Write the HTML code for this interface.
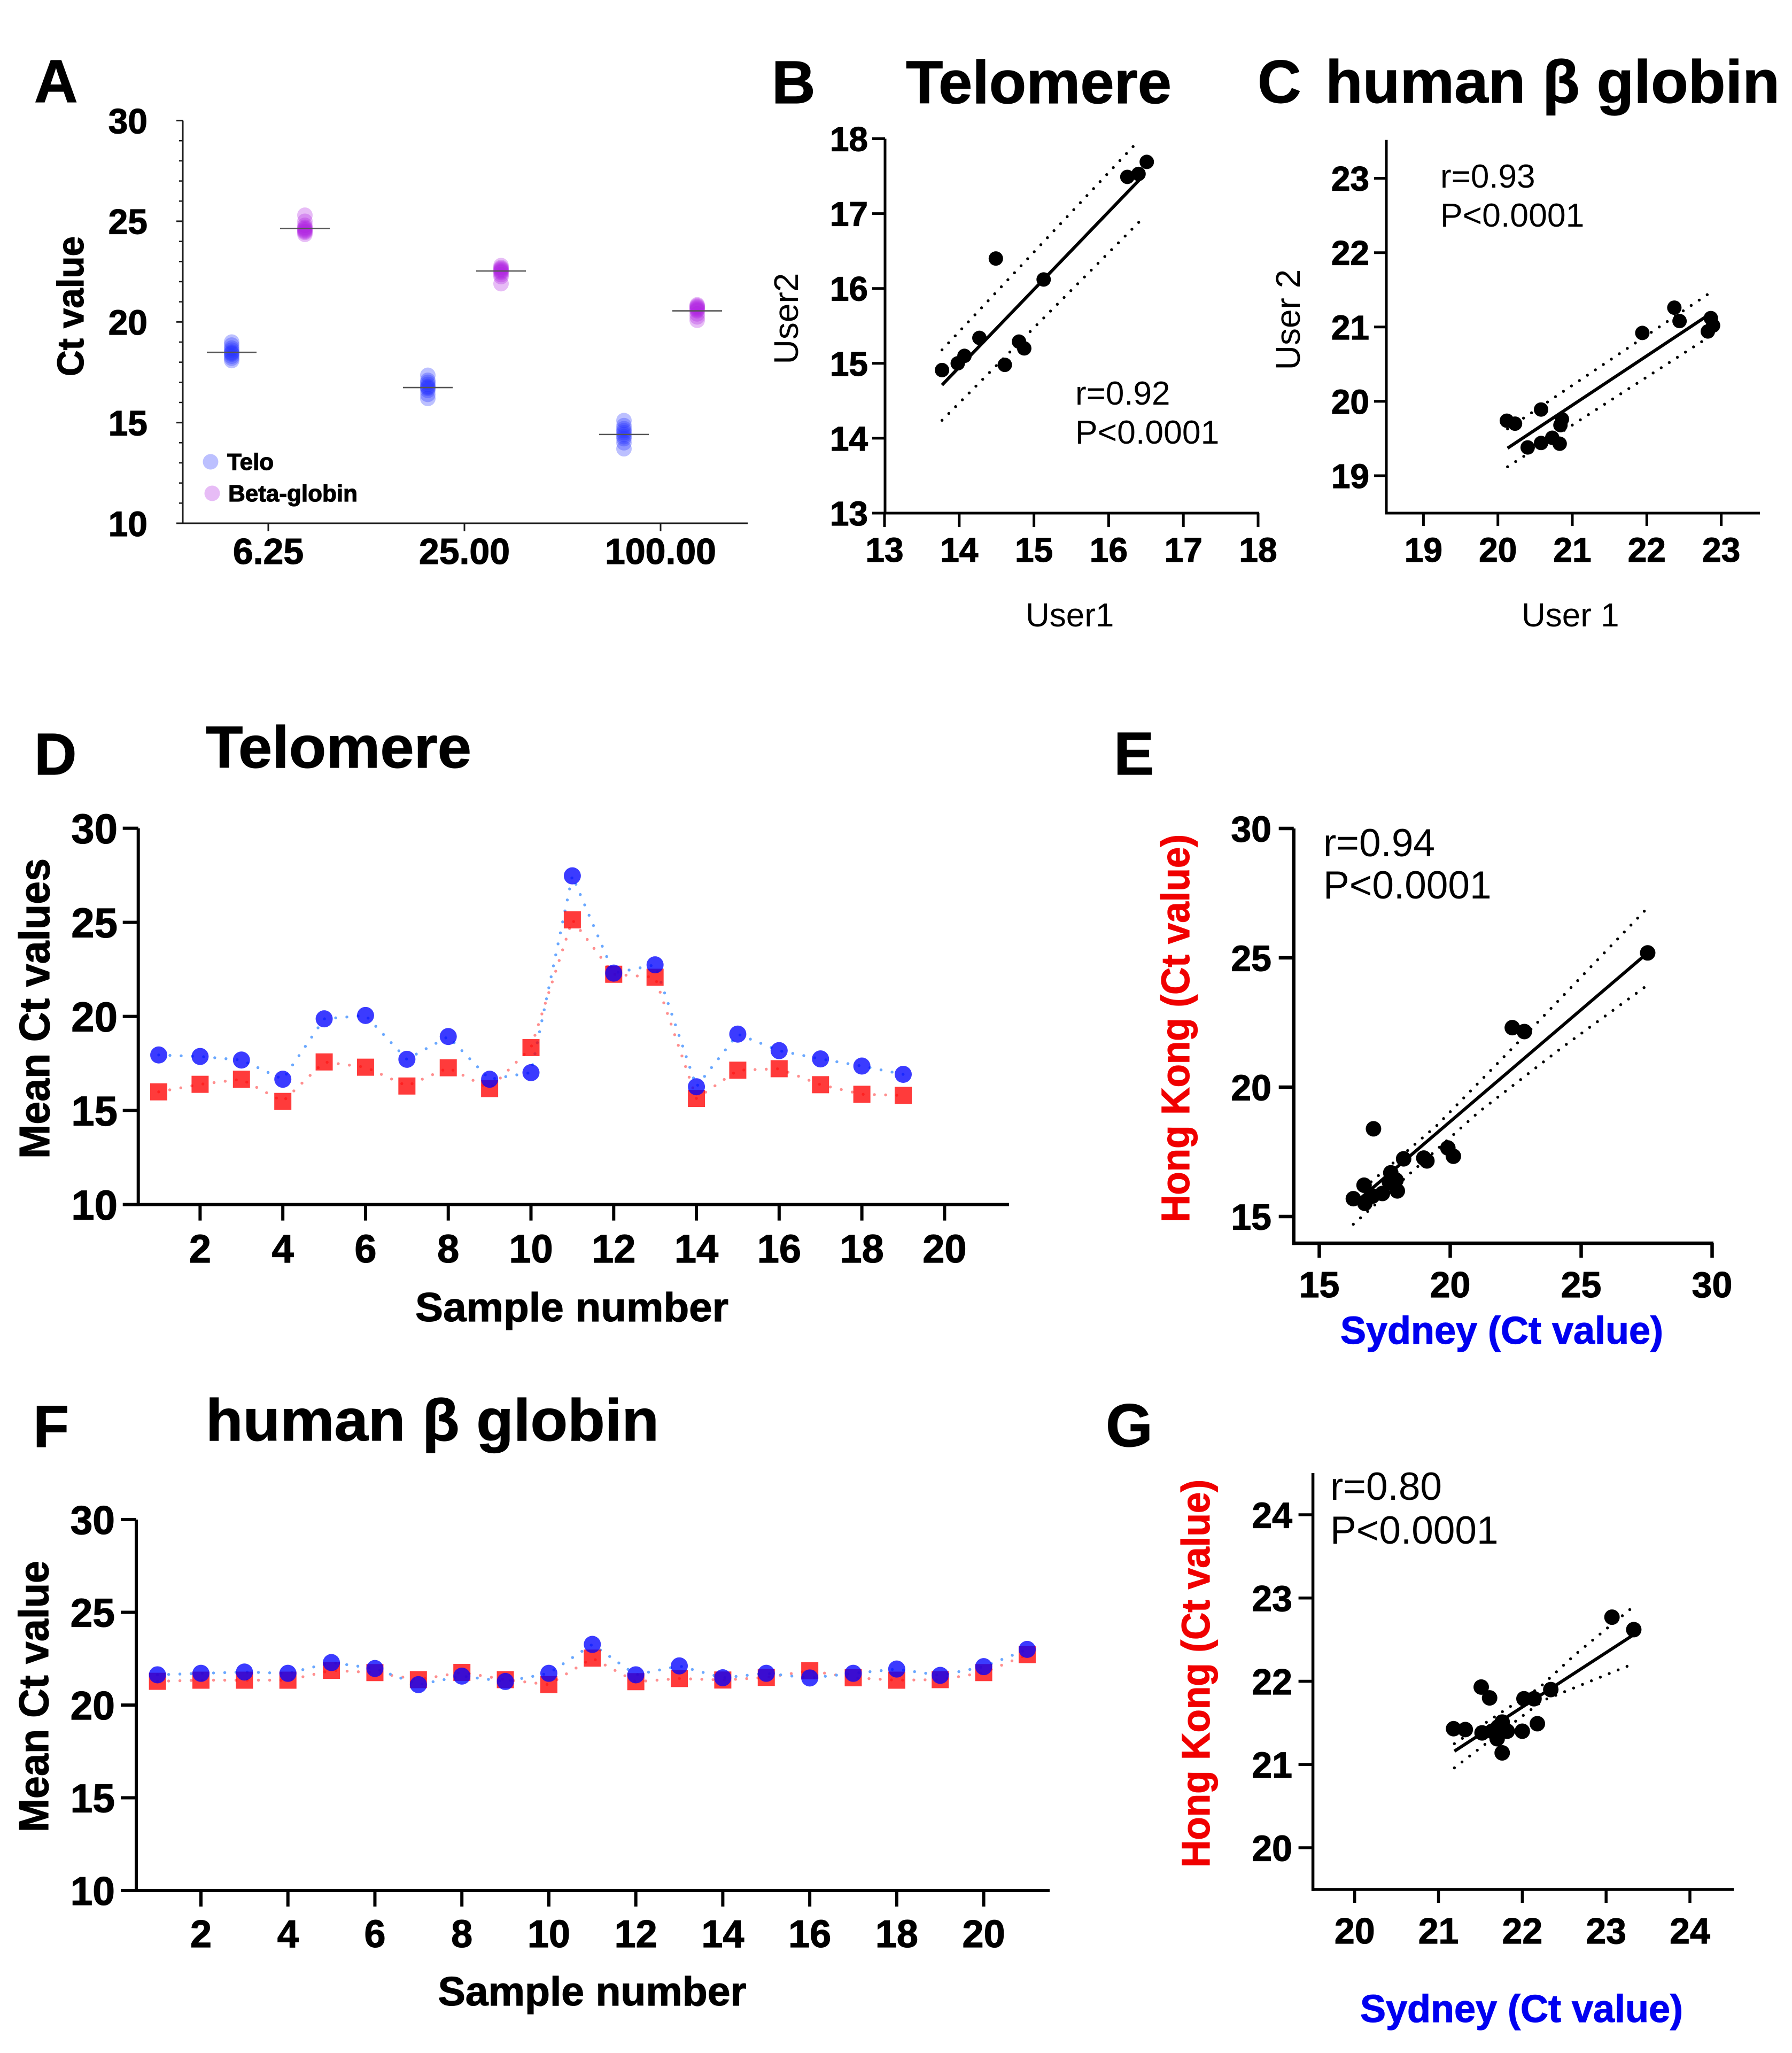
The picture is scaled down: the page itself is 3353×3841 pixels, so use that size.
<!DOCTYPE html>
<html lang="en">
<head>
<meta charset="utf-8">
<title>Telomere and human beta globin Ct values</title>
<style>
html,body{margin:0;padding:0;background:#fff;}
svg{display:block;}
text{font-family:"Liberation Sans",sans-serif;}
.b{font-weight:700;stroke:#000;stroke-width:1.2px;}
.red{fill:#f00000;stroke:#f00000;}
.blue{fill:#0000f0;stroke:#0000f0;}
</style>
</head>
<body>
<svg id="figure" xmlns="http://www.w3.org/2000/svg" width="3353" height="3841" viewBox="0 0 3353 3841">
<rect x="0" y="0" width="3353" height="3841" fill="#fff"/>

<g id="panel-a">
  <text class="b" x="64" y="191" font-size="113">A</text>
  <text class="b" x="156" y="573" font-size="70" text-anchor="middle" textLength="262" lengthAdjust="spacingAndGlyphs" transform="rotate(-90 156 573)">Ct value</text>
  <circle cx="394" cy="864" r="14.5" fill="#2030ff" fill-opacity="0.3"/>
  <text class="b" x="425" y="879" font-size="44">Telo</text>
  <circle cx="397" cy="923" r="14.5" fill="#b020e0" fill-opacity="0.3"/>
  <text class="b" x="427" y="938" font-size="44" textLength="242" lengthAdjust="spacingAndGlyphs">Beta-globin</text>
</g>

<g id="panel-b">
  <text class="b" x="1444" y="193" font-size="113">B</text>
  <text class="b" x="1695" y="193" font-size="113" textLength="497" lengthAdjust="spacingAndGlyphs">Telomere</text>
  <text x="2012" y="757" font-size="62">r=0.92</text>
  <text x="2012" y="830" font-size="62.5">P&lt;0.0001</text>
  <text x="1919" y="1172" font-size="62">User1</text>
  <text x="1493" y="596" font-size="64" text-anchor="middle" transform="rotate(-90 1493 596)">User2</text>
</g>

<g id="panel-c">
  <text class="b" x="2353" y="192" font-size="113">C</text>
  <text class="b" x="2480" y="192" font-size="113" textLength="850" lengthAdjust="spacingAndGlyphs">human β globin</text>
  <text x="2695" y="351" font-size="62">r=0.93</text>
  <text x="2695" y="424" font-size="62.5">P&lt;0.0001</text>
  <text x="2847" y="1172" font-size="62">User 1</text>
  <text x="2432" y="598" font-size="64" text-anchor="middle" transform="rotate(-90 2432 598)">User 2</text>
</g>

<g id="panel-d">
  <text class="b" x="64" y="1449" font-size="110">D</text>
  <text class="b" x="385" y="1436" font-size="110" textLength="497" lengthAdjust="spacingAndGlyphs">Telomere</text>
  <text class="b" x="1070" y="2472" font-size="76" text-anchor="middle" textLength="586" lengthAdjust="spacingAndGlyphs">Sample number</text>
  <text class="b" x="92" y="1887" font-size="80" text-anchor="middle" textLength="562" lengthAdjust="spacingAndGlyphs" transform="rotate(-90 92 1887)">Mean Ct values</text>
</g>

<g id="panel-e">
  <text class="b" x="2084" y="1449" font-size="113">E</text>
  <text x="2476" y="1602" font-size="73">r=0.94</text>
  <text x="2476" y="1681" font-size="73">P&lt;0.0001</text>
  <text class="b blue" x="2810" y="2514" font-size="72" text-anchor="middle" textLength="604" lengthAdjust="spacingAndGlyphs">Sydney (Ct value)</text>
  <text class="b red" x="2225" y="1924" font-size="74" text-anchor="middle" textLength="726" lengthAdjust="spacingAndGlyphs" transform="rotate(-90 2225 1924)">Hong Kong (Ct value)</text>
</g>

<g id="panel-f">
  <text class="b" x="62" y="2707" font-size="110">F</text>
  <text class="b" x="385" y="2695" font-size="110" textLength="848" lengthAdjust="spacingAndGlyphs">human β globin</text>
  <text class="b" x="1108" y="3752" font-size="76" text-anchor="middle" textLength="577" lengthAdjust="spacingAndGlyphs">Sample number</text>
  <text class="b" x="90" y="3174" font-size="78" text-anchor="middle" textLength="508" lengthAdjust="spacingAndGlyphs" transform="rotate(-90 90 3174)">Mean Ct value</text>
</g>

<g id="panel-g">
  <text class="b" x="2069" y="2706" font-size="113">G</text>
  <text x="2489" y="2806" font-size="73">r=0.80</text>
  <text x="2489" y="2888" font-size="73">P&lt;0.0001</text>
  <text class="b blue" x="2847" y="3783" font-size="72" text-anchor="middle" textLength="604" lengthAdjust="spacingAndGlyphs">Sydney (Ct value)</text>
  <text class="b red" x="2263" y="3131" font-size="74" text-anchor="middle" textLength="726" lengthAdjust="spacingAndGlyphs" transform="rotate(-90 2263 3131)">Hong Kong (Ct value)</text>
</g>
</svg>

<script>
/* ---------- Panel A data ---------- */
const aCategories = ['6.25', '25.00', '100.00'];
const aYTicks = [10, 15, 20, 25, 30];
const aTeloMedians = [18.49, 16.74, 14.41];
const aBetaMedians = [24.64, 22.53, 20.55];
const aTelo1 = [19.0, 18.85, 18.7, 18.6, 18.5, 18.45, 18.4, 18.3, 18.2, 18.08];
const aTelo2 = [17.35, 17.1, 17.0, 16.9, 16.8, 16.75, 16.7, 16.6, 16.4, 16.2];
const aTelo3 = [15.1, 14.85, 14.7, 14.6, 14.5, 14.4, 14.3, 14.2, 14.0, 13.7];
const aBeta1 = [25.3, 25.0, 24.8, 24.7, 24.65, 24.6, 24.55, 24.5, 24.45, 24.35];
const aBeta2 = [22.8, 22.7, 22.65, 22.6, 22.55, 22.5, 22.45, 22.35, 22.25, 21.9];
const aBeta3 = [20.85, 20.8, 20.75, 20.7, 20.65, 20.6, 20.55, 20.4, 20.25, 20.08];

/* ---------- Panel B data ---------- */
const bTicks = [13, 14, 15, 16, 17, 18];
const bUser1 = [13.77, 13.98, 14.07, 14.27, 14.49, 14.61, 14.80, 14.87, 15.13, 16.25, 16.40, 16.51];
const bUser2 = [14.91, 15.0, 15.10, 15.34, 16.40, 14.98, 15.29, 15.20, 16.12, 17.49, 17.53, 17.69];
const bFitX = [13.77, 16.42];
const bFitY = [14.71, 17.46];
const bUpperX = [13.77, 16.36];
const bUpperY = [15.18, 17.93];
const bLowerX = [13.77, 16.44];
const bLowerY = [14.24, 16.92];

/* ---------- Panel C data ---------- */
const cTicks = [19, 20, 21, 22, 23];
const cUser1 = [20.12, 20.23, 20.40, 20.58, 20.58, 20.73, 20.83, 20.84, 20.86, 21.94, 22.37, 22.44, 22.86, 22.89, 22.82];
const cUser2 = [19.74, 19.70, 19.38, 19.89, 19.44, 19.51, 19.43, 19.68, 19.76, 20.92, 21.26, 21.08, 21.12, 21.02, 20.94];
const cFitX = [20.13, 22.84];
const cFitY = [19.37, 21.17];
const cUpperX = [20.13, 22.85];
const cUpperY = [19.63, 21.46];
const cLowerX = [20.13, 22.81];
const cLowerY = [19.12, 20.85];

/* ---------- Panel D data ---------- */
const dXTicks = [2, 4, 6, 8, 10, 12, 14, 16, 18, 20];
const dYTicks = [10, 15, 20, 25, 30];
const dSydney = [17.95, 17.87, 17.68, 16.66, 19.87, 20.05, 17.72, 18.93, 16.66, 17.01, 27.47, 22.30, 22.74, 16.26, 19.06, 18.18, 17.74, 17.36, 16.92];
const dHongKong = [15.99, 16.39, 16.66, 15.48, 17.58, 17.30, 16.30, 17.27, 16.16, 18.34, 25.13, 22.24, 22.08, 15.64, 17.14, 17.22, 16.37, 15.86, 15.80];

/* ---------- Panel E data ---------- */
const eTicks = [15, 20, 25, 30];
const eSydney = [16.30, 16.74, 16.71, 17.03, 17.07, 17.41, 17.73, 17.68, 17.93, 17.98, 18.22, 18.99, 19.11, 19.91, 20.12, 22.37, 22.83, 27.54];
const eHongKong = [15.69, 15.51, 16.21, 15.79, 18.39, 15.89, 16.69, 16.33, 16.41, 15.99, 17.23, 17.26, 17.15, 17.65, 17.33, 22.30, 22.15, 25.19];
const eFitX = [16.3, 27.5];
const eFitY = [15.47, 25.16];
const eUpperX = [16.7, 19.47, 23.38, 27.54];
const eUpperY = [16.1, 18.5, 22.55, 26.94];
const eLowerX = [16.3, 21.1, 24.28, 27.54];
const eLowerY = [14.70, 19.05, 21.54, 23.95];

/* ---------- Panel F data ---------- */
const fXTicks = [2, 4, 6, 8, 10, 12, 14, 16, 18, 20];
const fYTicks = [10, 15, 20, 25, 30];
const fSydney = [21.63, 21.71, 21.78, 21.71, 22.29, 21.97, 21.10, 21.56, 21.27, 21.71, 23.27, 21.63, 22.11, 21.47, 21.71, 21.46, 21.71, 21.94, 21.60, 22.07, 23.0];
const fHongKong = [21.28, 21.34, 21.34, 21.34, 21.87, 21.75, 21.37, 21.76, 21.37, 21.10, 22.53, 21.26, 21.43, 21.35, 21.49, 21.85, 21.47, 21.34, 21.37, 21.75, 22.72];

/* ---------- Panel G data ---------- */
const gTicks = [20, 21, 22, 23, 24];
const gSydney = [21.18, 21.32, 21.51, 21.61, 21.52, 21.64, 21.70, 21.76, 21.76, 21.74, 21.82, 21.71, 22.00, 22.02, 22.14, 22.18, 22.34, 23.07, 23.33];
const gHongKong = [21.43, 21.42, 21.93, 21.80, 21.38, 21.40, 21.31, 21.14, 21.51, 21.40, 21.40, 21.45, 21.40, 21.79, 21.79, 21.49, 21.90, 22.77, 22.62];
const gFitX = [21.19, 23.33];
const gFitY = [21.16, 22.56];
const gUpperX = [21.19, 21.74, 22.20, 22.63, 23.33];
const gUpperY = [21.25, 21.62, 21.92, 22.32, 22.90];
const gLowerX = [21.19, 21.59, 22.25, 23.25];
const gLowerY = [20.96, 21.27, 21.77, 22.18];

/* ---------- Helpers ---------- */
const SVGNS = 'http://www.w3.org/2000/svg';

function add(parent, tag, name, attrs) {
  const el = document.createElementNS(SVGNS, tag);
  
  
  for (const k in attrs) el.setAttribute(k, attrs[k]);
  parent.appendChild(el);
  return el;
}

function scale(d0, p0, d1, p1) {
  return function (v) { return p0 + (v - d0) * (p1 - p0) / (d1 - d0); };
}

function drawAxes(g, o) {
  const color = o.color || '#000';
  add(g, 'line', 'y-axis-line', { x1: o.ax, y1: o.top, x2: o.ax, y2: o.ay + o.w / 2, stroke: color, 'stroke-width': o.w });
  add(g, 'line', 'x-axis-line', { x1: o.left, y1: o.ay, x2: o.right, y2: o.ay, stroke: color, 'stroke-width': o.w });
  o.yTicks.forEach(function (v) {
    const y = o.sy(v);
    add(g, 'line', 'y-tick', { x1: o.ax - o.lenY, y1: y, x2: o.ax, y2: y, stroke: color, 'stroke-width': o.w });
    const t = add(g, 'text', 'y-tick-label', { x: o.yLabelRight, y: y + o.fontY * 0.36, 'font-size': o.fontY, 'font-weight': 700, 'text-anchor': 'end', stroke: '#000', 'stroke-width': 1.2 });
    t.textContent = v;
  });
  o.xTicks.forEach(function (v, i) {
    const x = o.sx(v);
    add(g, 'line', 'x-tick', { x1: x, y1: o.ay, x2: x, y2: o.ay + o.lenX, stroke: color, 'stroke-width': o.w });
    const t = add(g, 'text', 'x-tick-label', { x: x, y: o.xLabelBase, 'font-size': o.fontX, 'font-weight': 700, 'text-anchor': 'middle', stroke: '#000', 'stroke-width': 1.2 });
    t.textContent = o.xLabels ? o.xLabels[i] : v;
  });
}

function path(xs, ys, sx, sy) {
  return xs.map(function (x, i) { return (i ? 'L' : 'M') + sx(x).toFixed(1) + ' ' + sy(ys[i]).toFixed(1); }).join(' ');
}

function drawScatter(g, o) {
  add(g, 'path', 'confidence-band-upper', { d: path(o.upX, o.upY, o.sx, o.sy), fill: 'none', stroke: '#000', 'stroke-width': 5.5, 'stroke-dasharray': '0 18', 'stroke-linecap': 'round' });
  add(g, 'path', 'confidence-band-lower', { d: path(o.loX, o.loY, o.sx, o.sy), fill: 'none', stroke: '#000', 'stroke-width': 5.5, 'stroke-dasharray': '0 18', 'stroke-linecap': 'round' });
  add(g, 'path', 'regression-line', { d: path(o.fitX, o.fitY, o.sx, o.sy), fill: 'none', stroke: '#000', 'stroke-width': 6 });
  o.xs.forEach(function (x, i) {
    add(g, 'circle', 'data-point', { cx: o.sx(x), cy: o.sy(o.ys[i]), r: o.r, fill: '#000' });
  });
}

function drawSeries(g, o) {
  const order = o.blue.map(function (_, i) { return i + 1; });
  add(g, 'path', 'hong-kong-dotted-line', { d: path(order, o.red, o.sx, o.sy), fill: 'none', stroke: '#ff8f8f', 'stroke-width': 5.5, 'stroke-dasharray': '0 21', 'stroke-linecap': 'round' });
  add(g, 'path', 'sydney-dotted-line', { d: path(order, o.blue, o.sx, o.sy), fill: 'none', stroke: '#6aa8ff', 'stroke-width': 5.5, 'stroke-dasharray': '0 21', 'stroke-linecap': 'round' });
  o.red.forEach(function (v, i) {
    const x = o.sx(order[i]);
    const y = o.sy(v);
    add(g, 'rect', 'hong-kong-marker', { x: x - 16, y: y - 16, width: 32, height: 32, fill: '#ff0000', 'fill-opacity': 0.77 });
  });
  o.blue.forEach(function (v, i) {
    add(g, 'circle', 'sydney-marker', { cx: o.sx(order[i]), cy: o.sy(v), r: 16, fill: '#0000ff', 'fill-opacity': 0.77 });
  });
}

/* ---------- Panel A ---------- */
(function () {
  const g = document.getElementById('panel-a');
  const sy = scale(10, 979, 30, 225.6);
  const sx = scale(0, 502, 2, 1236);
  drawAxes(g, {
    sx: sx, sy: sy, ax: 342, ay: 979, top: 225.6, left: 331, right: 1399, w: 3, lenX: 15, lenY: 12,
    yTicks: aYTicks, xTicks: aCategories.map(function (_, i) { return i; }), xLabels: aCategories,
    fontY: 66, fontX: 68, yLabelRight: 276, xLabelBase: 1055, color: '#1a1a1a'
  });
  for (let v = 11; v < 30; v++) {
    if (v % 5 === 0) continue;
    add(g, 'line', 'y-minor-tick', { x1: 335, y1: sy(v), x2: 342, y2: sy(v), stroke: '#1a1a1a', 'stroke-width': 2.5 });
  }
  const teloGroups = [aTelo1, aTelo2, aTelo3];
  const betaGroups = [aBeta1, aBeta2, aBeta3];
  const dodge = 68.5;
  aCategories.forEach(function (_, i) {
    const xt = sx(i) - dodge;
    const xb = sx(i) + dodge;
    teloGroups[i].forEach(function (v) {
      add(g, 'circle', 'telo-point', { cx: xt, cy: sy(v), r: 14.5, fill: '#2030ff', 'fill-opacity': 0.3 });
    });
    betaGroups[i].forEach(function (v) {
      add(g, 'circle', 'beta-globin-point', { cx: xb, cy: sy(v), r: 14.5, fill: '#b020e0', 'fill-opacity': 0.3 });
    });
    add(g, 'line', 'telo-median-line', { x1: xt - 46.5, y1: sy(aTeloMedians[i]), x2: xt + 46.5, y2: sy(aTeloMedians[i]), stroke: '#555', 'stroke-width': 2.6 });
    add(g, 'line', 'beta-globin-median-line', { x1: xb - 46.5, y1: sy(aBetaMedians[i]), x2: xb + 46.5, y2: sy(aBetaMedians[i]), stroke: '#555', 'stroke-width': 2.6 });
  });
})();

/* ---------- Panel B ---------- */
(function () {
  const g = document.getElementById('panel-b');
  const sx = scale(13, 1655, 18, 2354);
  const sy = scale(13, 960, 18, 259.5);
  drawAxes(g, {
    sx: sx, sy: sy, ax: 1656, ay: 960, top: 259.5, left: 1632, right: 2356, w: 5, lenX: 26, lenY: 24,
    yTicks: bTicks, xTicks: bTicks, fontY: 64, fontX: 64, yLabelRight: 1624, xLabelBase: 1051
  });
  drawScatter(g, { sx: sx, sy: sy, xs: bUser1, ys: bUser2, r: 13.5, fitX: bFitX, fitY: bFitY, upX: bUpperX, upY: bUpperY, loX: bLowerX, loY: bLowerY });
})();

/* ---------- Panel C ---------- */
(function () {
  const g = document.getElementById('panel-c');
  const sx = scale(19, 2663.4, 23, 3220.6);
  const sy = scale(19, 890, 23, 333.6);
  drawAxes(g, {
    sx: sx, sy: sy, ax: 2594, ay: 960, top: 261.7, left: 2592, right: 3293, w: 5, lenX: 24, lenY: 23,
    yTicks: cTicks, xTicks: cTicks, fontY: 64, fontX: 64, yLabelRight: 2562, xLabelBase: 1051
  });
  drawScatter(g, { sx: sx, sy: sy, xs: cUser1, ys: cUser2, r: 13.5, fitX: cFitX, fitY: cFitY, upX: cUpperX, upY: cUpperY, loX: cLowerX, loY: cLowerY });
})();

/* ---------- Panel D ---------- */
(function () {
  const g = document.getElementById('panel-d');
  const sx = scale(2, 374.4, 20, 1767.4);
  const sy = scale(10, 2253.6, 30, 1549.6);
  drawAxes(g, {
    sx: sx, sy: sy, ax: 258.7, ay: 2253.6, top: 1549.6, left: 230, right: 1888, w: 6, lenX: 30, lenY: 29,
    yTicks: dYTicks, xTicks: dXTicks, fontY: 78, fontX: 74, yLabelRight: 220, xLabelBase: 2362
  });
  drawSeries(g, { sx: sx, sy: sy, blue: dSydney, red: dHongKong });
})();

/* ---------- Panel E ---------- */
(function () {
  const g = document.getElementById('panel-e');
  const sx = scale(15, 2468.5, 30, 3203.5);
  const sy = scale(15, 2276, 30, 1550);
  drawAxes(g, {
    sx: sx, sy: sy, ax: 2420.7, ay: 2326, top: 1550, left: 2418, right: 3206, w: 6.5, lenX: 27, lenY: 28,
    yTicks: eTicks, xTicks: eTicks, fontY: 68, fontX: 68, yLabelRight: 2379, xLabelBase: 2427
  });
  drawScatter(g, { sx: sx, sy: sy, xs: eSydney, ys: eHongKong, r: 14.5, fitX: eFitX, fitY: eFitY, upX: eUpperX, upY: eUpperY, loX: eLowerX, loY: eLowerY });
})();

/* ---------- Panel F ---------- */
(function () {
  const g = document.getElementById('panel-f');
  const sx = scale(2, 376, 20, 1840.6);
  const sy = scale(10, 3537, 30, 2843);
  drawAxes(g, {
    sx: sx, sy: sy, ax: 255, ay: 3537, top: 2843, left: 226, right: 1964, w: 6, lenX: 30, lenY: 29,
    yTicks: fYTicks, xTicks: fXTicks, fontY: 75, fontX: 72, yLabelRight: 215, xLabelBase: 3643
  });
  drawSeries(g, { sx: sx, sy: sy, blue: fSydney, red: fHongKong });
})();

/* ---------- Panel G ---------- */
(function () {
  const g = document.getElementById('panel-g');
  const sx = scale(20, 2534.7, 24, 3162);
  const sy = scale(20, 3457, 24, 2834);
  drawAxes(g, {
    sx: sx, sy: sy, ax: 2456.6, ay: 3535, top: 2756, left: 2454, right: 3244, w: 5.5, lenX: 25, lenY: 27,
    yTicks: gTicks, xTicks: gTicks, fontY: 68, fontX: 68, yLabelRight: 2418, xLabelBase: 3636
  });
  drawScatter(g, { sx: sx, sy: sy, xs: gSydney, ys: gHongKong, r: 14.5, fitX: gFitX, fitY: gFitY, upX: gUpperX, upY: gUpperY, loX: gLowerX, loY: gLowerY });
})();
</script>
</body>
</html>
